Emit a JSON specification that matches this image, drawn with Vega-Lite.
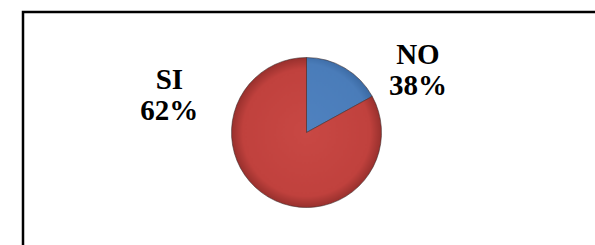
{
  "$schema": "https://vega.github.io/schema/vega-lite/v6.json",
  "autosize": "none",
  "width": 567,
  "height": 235,
  "padding": {"left": 23, "top": 15, "right": 5, "bottom": 0},
  "background": "white",
  "config": {"view": {"stroke": "#8c8c8c", "strokeWidth": 2.5}},
  "data": {"values": [
    {"cat": "NO", "value": 17, "label": "NO\n38%"},
    {"cat": "SI", "value": 83, "label": "SI\n62%"}
  ]},
  "layer": [
    {
      "data": {"values": [{"frame": "outer"}]},
      "mark": {"type": "rect", "fill": null, "stroke": "#000000", "strokeWidth": 2.5, "xOffset": 18, "yOffset": -3, "x2Offset": -16, "y2Offset": 40},
      "encoding": {}
    },
    {
      "mark": {"type": "arc", "outerRadius": 75, "stroke": "#3b2a2a", "strokeWidth": 0.8, "strokeOpacity": 0.7},
      "encoding": {
        "theta": {"field": "value", "type": "quantitative", "stack": true},
        "order": {"field": "cat", "type": "nominal", "sort": "ascending"},
        "fill": {
          "condition": {"test": "datum.cat === 'NO'", "value": {"gradient": "radial", "x1": 0, "y1": 1, "x2": 0, "y2": 1, "r1": 0, "r2": 1.15, "stops": [{"offset": 0, "color": "#4f82c0"}, {"offset": 0.8, "color": "#4a7cb9"}, {"offset": 1, "color": "#2f5b91"}]}},
          "value": {"gradient": "radial", "x1": 0.5, "y1": 0.5, "x2": 0.5, "y2": 0.5, "r1": 0, "r2": 0.5, "stops": [{"offset": 0, "color": "#c84844"}, {"offset": 0.85, "color": "#c0413d"}, {"offset": 1, "color": "#98302d"}]}
        }
      }
    },
    {
      "mark": {"type": "text", "radius": 147, "thetaOffset": 1.405, "font": "Liberation Serif, Times New Roman, serif", "fontWeight": "bold", "fontSize": 29, "lineHeight": 31, "lineBreak": "\n", "align": "center", "baseline": "middle", "color": "#000000"},
      "encoding": {
        "theta": {"field": "value", "type": "quantitative", "stack": true},
        "order": {"field": "cat", "type": "nominal", "sort": "ascending"},
        "text": {"condition": {"test": "datum.cat === 'SI'", "field": "label"}, "value": ""}
      }
    },
    {
      "mark": {"type": "text", "radius": 136, "thetaOffset": 0.426, "font": "Liberation Serif, Times New Roman, serif", "fontWeight": "bold", "fontSize": 29, "lineHeight": 31, "lineBreak": "\n", "align": "center", "baseline": "middle", "color": "#000000"},
      "encoding": {
        "theta": {"field": "value", "type": "quantitative", "stack": true},
        "order": {"field": "cat", "type": "nominal", "sort": "ascending"},
        "text": {"condition": {"test": "datum.cat === 'NO'", "field": "label"}, "value": ""}
      }
    }
  ]
}
